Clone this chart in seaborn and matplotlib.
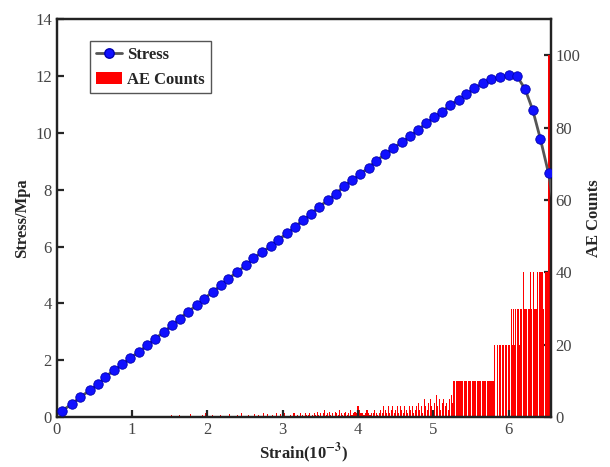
import numpy as np
import pandas as pd
import matplotlib
matplotlib.use("Agg")
import matplotlib.pyplot as plt
import seaborn as sns
from matplotlib.patches import Patch
from matplotlib.lines import Line2D

# stress-strain curve (strain in 1e-3, stress in MPa)
strain = [0.067, 0.206, 0.314, 0.438, 0.546, 0.644, 0.758, 0.871, 0.979, 1.088,
          1.20, 1.31, 1.42, 1.53, 1.63, 1.74, 1.86, 1.96, 2.07, 2.18,
          2.28, 2.40, 2.51, 2.61, 2.72, 2.84, 2.94, 3.06, 3.16, 3.27,
          3.38, 3.48, 3.60, 3.71, 3.81, 3.92, 4.03, 4.14, 4.24, 4.36,
          4.46, 4.58, 4.69, 4.79, 4.90, 5.01, 5.12, 5.22, 5.34, 5.44,
          5.54, 5.66, 5.77, 5.89, 6.00, 6.11, 6.22, 6.32, 6.42, 6.53, 6.60]
stress = [0.21, 0.47, 0.70, 0.94, 1.15, 1.41, 1.64, 1.85, 2.08, 2.29,
          2.52, 2.76, 2.99, 3.23, 3.46, 3.70, 3.93, 4.17, 4.40, 4.64,
          4.87, 5.11, 5.34, 5.58, 5.79, 6.01, 6.24, 6.46, 6.69, 6.92,
          7.16, 7.39, 7.63, 7.86, 8.12, 8.33, 8.54, 8.78, 9.01, 9.25,
          9.45, 9.66, 9.88, 10.09, 10.33, 10.54, 10.75, 10.97, 11.17, 11.36,
          11.56, 11.74, 11.88, 11.95, 12.03, 12.00, 11.53, 10.80, 9.80, 8.57, 7.40]

# AE counts - sparse early events
ae_early_x = [1.52, 1.63, 1.78, 1.93, 1.98, 2.07, 2.18, 2.30, 2.40, 2.45, 2.55,
              2.62, 2.68, 2.75, 2.80, 2.86, 2.92, 2.97, 3.03, 3.10, 3.15]
ae_early_y = [0.5, 0.5, 0.7, 0.5, 1.0, 0.5, 0.5, 0.7, 0.5, 1.0, 0.5,
              0.7, 0.5, 1.0, 0.7, 0.5, 1.0, 0.7, 1.0, 0.5, 1.0]
# 3.20 .. 3.98, step 0.02
ae_mid = [0.5, 0, 1, 0.5, 0, 1, 0.5, 0.5, 1, 0, 0.5, 1, 0.5, 1.5, 0.5, 1, 0, 1, 2, 0.5,
          1, 1.5, 0.5, 1, 0, 1.5, 1, 0.5, 2, 1, 0.5, 1, 1.5, 0.5, 1, 2, 0.5, 1, 1.5, 1]
# 4.00 .. 5.26, step 0.02
ae_late = [3, 2, 1, 1, 0.5, 1, 2, 1, 0.5, 1, 1, 2, 1, 0.5, 1, 2, 1, 3, 2, 1,
           3, 1, 2, 3, 1, 2, 3, 1, 3, 2, 1, 3, 2, 1, 3, 2, 3, 1, 2, 3,
           4, 2, 3, 1, 5, 3, 2, 4, 5, 3, 2, 4, 6, 3, 5, 2, 4, 5, 3, 4,
           2, 5, 6, 4]
# 5.27 .. 6.56, step 0.01
ae_fail = [10, 10, 0, 10, 10, 10, 10, 0, 10, 10, 10, 10, 10, 0, 10, 10, 10, 10, 0, 10,
           10, 10, 10, 10, 0, 10, 10, 10, 10, 10, 0, 10, 10, 10, 10, 10, 10, 0, 10, 10,
           10, 10, 10, 10, 0, 10, 10, 10, 10, 10, 10, 10, 10, 10, 20, 10, 20, 0, 20, 20,
           10, 20, 20, 20, 0, 20, 20, 10, 20, 20, 20, 20, 0, 20, 20, 20, 20, 30, 20, 30,
           30, 20, 30, 0, 30, 30, 30, 20, 40, 30, 30, 0, 30, 40, 30, 30, 30, 30, 0, 30,
           40, 30, 40, 30, 30, 0, 40, 30, 40, 30, 30, 40, 30, 0, 40, 40, 30, 40, 40, 30,
           40, 0, 40, 40, 40, 40, 100, 100, 100, 100]

x_mid = [3.20 + 0.02 * i for i in range(len(ae_mid))]
x_late = [4.00 + 0.02 * i for i in range(len(ae_late))]
x_fail = [5.27 + 0.01 * i for i in range(len(ae_fail))]
curve = pd.DataFrame({"strain": strain, "stress": stress})

sns.set_style("ticks")
plt.rcParams["font.family"] = ["Liberation Serif", "DejaVu Serif"]
plt.rcParams["mathtext.fontset"] = "stix"

fig = plt.figure(figsize=(6.1, 4.67), dpi=100)
ax = fig.add_axes([0.093, 0.107, 0.81, 0.852])
ax2 = ax.twinx()

ax2.bar(ae_early_x + x_mid, ae_early_y + ae_mid, width=0.014, color="red", linewidth=0)
ax2.bar(x_late, ae_late, width=0.015, color="red", linewidth=0)
ax2.bar(x_fail, ae_fail, width=0.009, color="red", linewidth=0)
ax2.set_ylim(0, 110)
ax2.set_yticks([0, 20, 40, 60, 80, 100])
ax2.set_ylabel("AE Counts", fontsize=12, fontweight="bold", labelpad=4)

ax.set_zorder(ax2.get_zorder() + 1)
ax.patch.set_visible(False)
sns.lineplot(data=curve, x="strain", y="stress", ax=ax, color="#555555", linewidth=2,
             marker="o", markersize=6.8, markerfacecolor="#1010ff",
             markeredgecolor="#0000b0", markeredgewidth=0.6,
             markevery=list(range(len(strain) - 1)), zorder=3)
ax.set_xlim(0, 6.56)
ax.set_ylim(0, 14)
ax.set_xticks(range(0, 7))
ax.set_yticks(range(0, 15, 2))
ax.set_xlabel(r"Strain(10$^{\mathbf{-3}}$)", fontsize=12, fontweight="bold", labelpad=2)
ax.set_ylabel("Stress/Mpa", fontsize=12, fontweight="bold", labelpad=4)

for a in (ax, ax2):
    for s in a.spines.values():
        s.set_linewidth(1.6)
        s.set_color("#222222")
    a.tick_params(direction="in", width=1.6, length=5, labelsize=12, labelcolor="#444444")

handles = [Line2D([], [], color="#555555", lw=2, marker="o", markersize=6.8,
                  markerfacecolor="#1010ff", markeredgecolor="#0000b0"),
           Patch(facecolor="red", edgecolor="none")]
leg = ax.legend(handles, ["Stress", "AE Counts"], loc="upper left",
                bbox_to_anchor=(0.05, 0.965), fancybox=False, framealpha=1,
                edgecolor="#555555", prop={"weight": "bold", "size": 12},
                handlelength=1.6, handletextpad=0.3, borderpad=0.35, labelspacing=0.5)

fig.savefig("out.png", dpi=100)
